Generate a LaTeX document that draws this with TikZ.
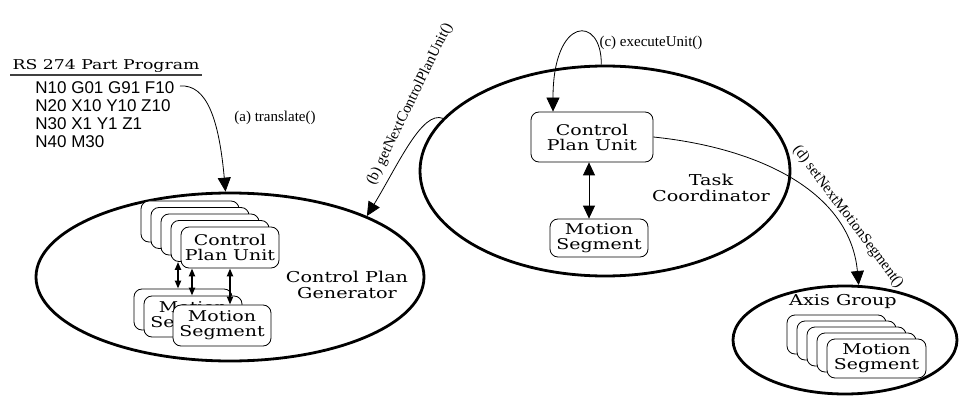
\documentclass[tikz,border=0pt]{standalone}
\usepackage{fontspec}
\setmainfont{Liberation Serif}
\newfontfamily\boxfont[FakeStretch=1.28]{DejaVu Serif}
\newfontfamily\codefont{Liberation Sans}
\usepackage{tikz}
\usetikzlibrary{positioning,shapes.geometric}
\usetikzlibrary{arrows.meta}

\begin{document}
\begin{tikzpicture}[x=1pt,y=-1pt,line width=0.8pt,
	unit/.style={rectangle,rounded corners=8pt,draw=black,fill=white,align=center,inner sep=0pt,font=\boxfont\fontsize{14.8}{15}\selectfont},
	cpubox/.style={unit,minimum width=98pt,minimum height=41pt},
	msbox/.style={unit,minimum width=98pt,minimum height=41pt},
	axbox/.style={unit,minimum width=99pt,minimum height=39pt},
	blob/.style={ellipse,draw=black,line width=2.8pt,inner sep=0pt},
	blobtext/.style={align=center,font=\boxfont\fontsize{15}{16}\selectfont},
	lbl/.style={font=\fontsize{15}{17}\selectfont,inner sep=1pt},
	call/.style={-{Triangle[length=14pt,width=13pt]}},
	both/.style={{Triangle[length=13pt,width=12pt]}-{Triangle[length=13pt,width=12pt]}},
	link/.style={{Triangle[length=8pt,width=6pt]}-{Triangle[length=8pt,width=6pt]},line width=1.9pt}]
	
	\useasboundingbox (0,0) rectangle (959,401);
	
	\node[blob,minimum width=388pt,minimum height=168pt] (cpg) at (230,277) {};
	\node[blob,minimum width=370pt,minimum height=210pt] (tc) at (605,171) {};
	\node[blob,minimum width=224pt,minimum height=108pt] (ag) at (845,340) {};
	
	\node[blobtext] (cpglabel) at (347,285) {Control Plan\\Generator};
	\node[blobtext] (tclabel) at (711,188) {Task\\Coordinator};
	\node[blobtext] (aglabel) at (843,301) {Axis Group};
	
	\node[font=\boxfont\fontsize{13.5}{15}\selectfont,inner sep=2pt] (rs) at (106,66) {RS 274 Part Program};
	\draw[line width=1.2pt,draw=black!75] (rs.south west) -- (rs.south east);
	\node[anchor=north west,align=left,inner sep=0pt,font=\codefont\fontsize{17}{18}\selectfont] (prog) at (35,81) {N10 G01 G91 F10\\N20 X10 Y10 Z10\\N30 X1 Y1 Z1\\N40 M30};
	\coordinate (astart) at (180,86);
	
	\node[cpubox] (cpuL1) at (190,221.5) {};
	\node[cpubox] (cpuL2) at (200,228) {};
	\node[cpubox] (cpuL3) at (210,234.5) {};
	\node[cpubox] (cpuL4) at (220,241) {};
	\node[cpubox] (cpuL5) at (230,247.5) {Control\\Plan Unit};
	
	\node[msbox] (msL1) at (183,309.5) {};
	\node[msbox] (msL2) at (193,316.5) {Motion\\Segment};
	\node[msbox] (msL3) at (222,325.5) {Motion\\Segment};
	
	\node[unit,minimum width=122pt,minimum height=50pt] (cpuR) at (592,137) {Control\\Plan Unit};
	\node[unit,minimum width=98pt,minimum height=38pt] (msR) at (599,238) {Motion\\Segment};
	
	\node[axbox] (msA1) at (836.5,334.5) {};
	\node[axbox] (msA2) at (846.5,340.5) {};
	\node[axbox] (msA3) at (856.5,346.5) {};
	\node[axbox] (msA4) at (866.5,352.5) {};
	\node[axbox] (msA5) at (876.5,358.5) {Motion\\Segment};
	
	\draw[link] ([xshift=-42pt]cpuL4.south) -- ([xshift=-5pt]msL1.north);
	\draw[link] ([xshift=-38pt]cpuL5.south) -- ([xshift=-1pt]msL2.north);
	\draw[link] (cpuL5.south) -- ([xshift=8pt]msL3.north);
	\draw[both] ([xshift=-3pt]cpuR.south) -- ([xshift=-10pt]msR.north);
	
	\draw[call] (astart) .. controls (207,84) and (219,120) .. (cpg.93) node[lbl] (alabel) at (275,118) {(a) translate()};
	\draw[call] (tc.162) .. controls (422,110) and (398,165) .. (cpg.24) node[lbl,rotate=64] (blabel) at (410,104) {(b) getNextControlPlanUnit()};
	\draw[call] (tc.92) .. controls (602,15) and (553,15) .. ([xshift=-39pt]cpuR.north) node[lbl] (clabel) at (651,43) {(c) executeUnit()};
	\draw[call] (cpuR.east) .. controls (760,148) and (850,192) .. (ag.76) node[lbl,rotate=-53] (dlabel) at (848,217) {(d) setNextMotionSegment()};
	
\end{tikzpicture}
\end{document}
